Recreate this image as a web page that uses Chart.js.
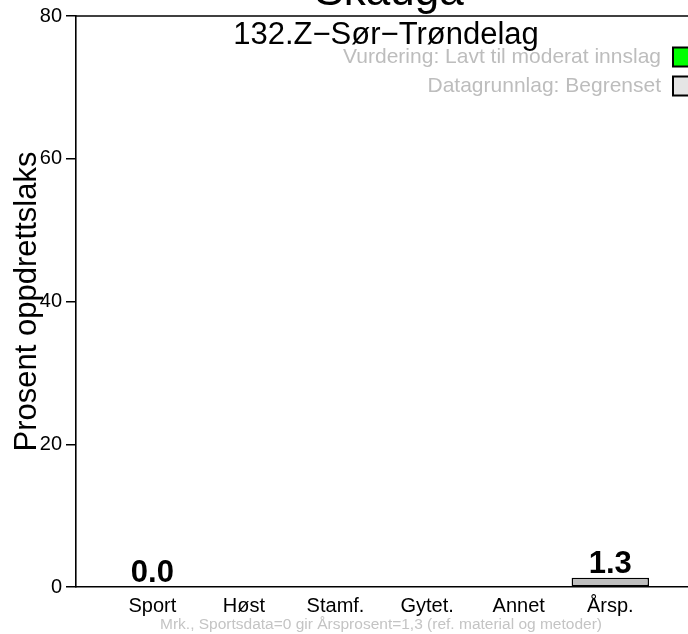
<!DOCTYPE html>
<html>
<head>
<meta charset="utf-8">
<script src="https://cdn.jsdelivr.net/npm/chart.js@4/dist/chart.umd.min.js"></script>
<style>
html,body{margin:0;padding:0;background:#fff;}
canvas{display:block;}
</style>
</head>
<body>
<canvas id="c" width="688" height="634"></canvas>
<script>
// ---- data ----
const categories = ["Sport", "Høst", "Stamf.", "Gytet.", "Annet", "Årsp."];
const positions = [0.7, 1.9, 3.1, 4.3, 5.5, 6.7];
const values = [0.0, null, null, null, null, 1.3];
const yTicks = [0, 20, 40, 60, 80];
const titleText = "Skauga";
const subtitleText = "132.Z\u2212Sør\u2212Trøndelag";
const legendLabels = ["Vurdering: Lavt til moderat innslag", "Datagrunnlag: Begrenset"];
const legendColors = ["#00ff00", "#e5e5e5"];
const yTitle = "Prosent oppdrettslaks";
const footnote = "Mrk., Sportsdata=0 gir Årsprosent=1,3 (ref. material og metoder)";

const FONT = "'Liberation Sans', Arial, Helvetica, sans-serif";

const decor = {
  id: 'decor',
  afterDraw(chart) {
    const ctx = chart.ctx;
    const a = chart.chartArea;
    ctx.save();
    // top frame line
    ctx.strokeStyle = '#000';
    ctx.lineWidth = 1.6;
    ctx.beginPath();
    ctx.moveTo(a.left, a.top);
    ctx.lineTo(a.right + 2, a.top);
    ctx.stroke();

    // title (cut off at top)
    ctx.fillStyle = '#000';
    ctx.textAlign = 'center';
    ctx.textBaseline = 'alphabetic';
    ctx.font = "44px " + FONT;
    ctx.fillText(titleText, 389, 5);

    // subtitle
    ctx.font = "31px " + FONT;
    ctx.fillText(subtitleText, 386, 44);

    // legend
    ctx.font = "21px " + FONT;
    ctx.textAlign = 'right';
    ctx.textBaseline = 'middle';
    const ly = [57, 86];
    for (let i = 0; i < legendLabels.length; i++) {
      ctx.fillStyle = '#bdbdbd';
      ctx.fillText(legendLabels[i], 661, ly[i]);
      ctx.fillStyle = legendColors[i];
      ctx.fillRect(673, ly[i] - 9.5, 20, 19);
      ctx.strokeStyle = '#000';
      ctx.lineWidth = 2;
      ctx.strokeRect(673, ly[i] - 9.5, 20, 19);
    }

    // footnote
    ctx.font = "15.5px " + FONT;
    ctx.textAlign = 'center';
    ctx.fillStyle = '#c4c4c4';
    ctx.fillText(footnote, 381, 625);

    // value labels
    const meta = chart.getDatasetMeta(0);
    ctx.font = "bold 31px " + FONT;
    ctx.fillStyle = '#000';
    ctx.textBaseline = 'alphabetic';
    meta.data.forEach((bar, i) => {
      const v = values[i];
      if (v === null || v === undefined) return;
      ctx.fillText(v.toFixed(1), bar.x, bar.y - 5);
    });
    ctx.restore();
  }
};

new Chart(document.getElementById('c'), {
  type: 'bar',
  data: {
    datasets: [{
      data: positions.map((p, i) => ({x: p, y: values[i]})),
      backgroundColor: '#bebebe',
      borderColor: '#000',
      borderWidth: 1.5,
      borderSkipped: false,
      categoryPercentage: 1.0,
      barPercentage: 0.845
    }]
  },
  options: {
    responsive: false,
    animation: false,
    layout: {padding: {top: 16, left: 0, right: 0, bottom: 0}},
    plugins: {legend: {display: false}, tooltip: {enabled: false}, title: {display: false}},
    scales: {
      x: {
        type: 'linear',
        offset: false,
        min: -0.3,
        max: 7.718,
        grid: {display: false, drawTicks: false, offset: false},
        border: {display: true, color: '#000', width: 1.6},
        afterBuildTicks: (s) => { s.ticks = positions.map(v => ({value: v})); },
        afterFit: (s) => { s.height = 47; s.paddingLeft = 0; s.paddingRight = 0; },
        ticks: {
          autoSkip: false,
          maxRotation: 0,
          padding: 7,
          color: '#000',
          font: {family: FONT, size: 20},
          callback: (v, i) => categories[i]
        }
      },
      y: {
        min: 0,
        max: 80,
        afterBuildTicks: (s) => { s.ticks = yTicks.map(v => ({value: v})); },
        afterFit: (s) => { s.width = 76; },
        grid: {display: true, drawOnChartArea: false, drawTicks: true, tickLength: 10, color: '#000', lineWidth: 1.5},
        border: {display: true, color: '#000', width: 1.6},
        ticks: {
          padding: 4,
          color: '#000',
          font: {family: FONT, size: 20}
        },
        title: {
          display: true,
          text: yTitle,
          color: '#000',
          font: {family: FONT, size: 31},
          padding: {top: 9, bottom: 0}
        }
      }
    }
  },
  plugins: [decor]
});
</script>
</body>
</html>
